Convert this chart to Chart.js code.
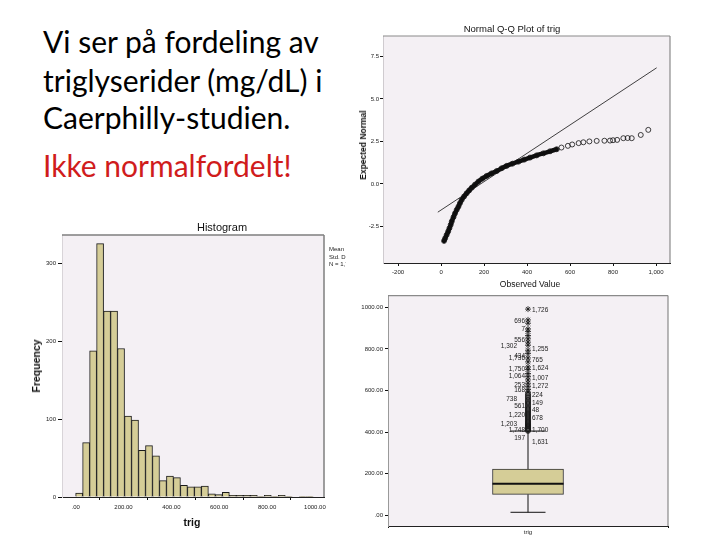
<!DOCTYPE html>
<html lang="no">
<head>
<meta charset="UTF-8">
<title>Triglyserider - Caerphilly</title>
<script src="https://cdn.jsdelivr.net/npm/chart.js"></script>
<style>
  html, body { margin: 0; padding: 0; background: #fff; }
  body { width: 720px; height: 540px; position: relative; overflow: hidden; font-family: 'Liberation Sans', Arial, sans-serif; }
  .slide-text { position: absolute; left: 43px; font-family: Lato, 'Open Sans', sans-serif; font-size: 30px; line-height: 30px; color: #000; white-space: nowrap; }
  .red { color: #d01c1c; }
  canvas { position: absolute; }
  .lbl { position: absolute; white-space: nowrap; color: #111; transform: translate(-50%, -50%); }
  .vlbl { transform: translate(-50%, -50%) rotate(-90deg); }
  .legend { position: absolute; left: 329px; top: 246px; width: 17px; overflow: hidden; font-size: 6px; line-height: 7.5px; color: #222; white-space: nowrap; }
</style>
</head>
<body>
  <div class="slide-text" style="top:26px">Vi ser på fordeling av</div>
  <div class="slide-text" style="top:65px">triglyserider (mg/dL) i</div>
  <div class="slide-text" style="top:102px">Caerphilly-studien.</div>
  <div class="slide-text red" style="top:150px">Ikke normalfordelt!</div>

  <canvas id="hist" width="325" height="320" style="left:20px; top:215px"></canvas>
  <div class="lbl" style="left:222px; top:227px; font-size:11px">Histogram</div>
  <div class="lbl vlbl" style="left:36px; top:366px; font-size:10.5px; font-weight:bold">Frequency</div>
  <div class="lbl" style="left:192px; top:522px; font-size:10.5px; font-weight:bold">trig</div>
  <div class="legend">Mean =<br>Std. Dev. =<br>N = 1,7</div>

  <canvas id="qq" width="318" height="275" style="left:357px; top:18px"></canvas>
  <div class="lbl" style="left:512px; top:28px; font-size:9.5px">Normal Q-Q Plot of trig</div>
  <div class="lbl vlbl" style="left:363px; top:145px; font-size:8.5px; font-weight:bold">Expected Normal</div>
  <div class="lbl" style="left:530px; top:284px; font-size:8.5px">Observed Value</div>

  <canvas id="box" width="318" height="250" style="left:357px; top:290px"></canvas>

<script>
// ---- histogram of trig ----
const histBinStart = 0;
const histBinWidth = 29.2;
const histCounts = [5, 70, 188, 326, 239, 239, 191, 104, 99, 60, 66, 53, 21, 27, 25, 15, 13,
                    13, 14, 4, 3, 6, 2, 2, 2, 2, 1, 2, 1, 2, 1, 0, 1, 1];
const histXTicks = [0, 200, 400, 600, 800, 1000];
const histXLabels = ['.00', '200.00', '400.00', '600.00', '800.00', '1000.00'];
const histYTicks = [0, 100, 200, 300];

// ---- normal Q-Q plot ----
const qqDenseX = [14, 19, 26, 33, 39, 45, 50, 58, 65, 73, 81, 88, 96, 107, 119, 131, 143, 158, 174, 192, 212,
                  235, 259, 282, 305, 332, 360, 387, 414, 445, 476, 507, 538];
const qqDenseY = [-3.35, -3.2, -3.0, -2.8, -2.6, -2.4, -2.2, -1.95, -1.73, -1.52, -1.33, -1.13, -0.94, -0.74, -0.55,
                  -0.38, -0.22, -0.04, 0.14, 0.31, 0.47, 0.62, 0.76, 0.92, 1.06, 1.19, 1.31, 1.43, 1.55, 1.68, 1.8, 1.92, 2.04];
const qqTailX = [560, 590, 610, 640, 662, 690, 724, 760, 786, 800, 819, 848, 868, 887, 929, 964];
const qqTailY = [2.14, 2.24, 2.32, 2.4, 2.45, 2.5, 2.53, 2.54, 2.55, 2.57, 2.59, 2.69, 2.7, 2.69, 2.88, 3.18];
const qqRefX = [-15, 1003];
const qqRefY = [-1.66, 6.83];
const qqXTicks = [-200, 0, 200, 400, 600, 800, 1000];
const qqXLabels = ['-200', '0', '200', '400', '600', '800', '1,000'];
const qqYTicks = [-2.5, 0, 2.5, 5, 7.5];
const qqYLabels = ['-2.5', '0.0', '2.5', '5.0', '7.5'];

// ---- boxplot ----
const boxCategory = 'trig';
const boxLowerWhisker = 14;
const boxQ1 = 100;
const boxMedian = 151;
const boxQ3 = 222;
const boxUpperWhisker = 405;
const boxOutliers = [585, 578, 571, 565, 558, 552, 546, 540, 534, 528, 522, 516, 510, 505, 500, 495, 490, 485,
                     480, 475, 470, 465, 460, 455, 450, 446, 442, 438, 434, 430, 426, 422, 418, 414, 410, 406];
const boxExtremes = [992, 940, 924, 897, 884, 865, 849, 833, 818, 794, 778, 757, 738, 714, 701, 682, 667,
                     651, 635, 620, 605, 592];
const boxLabelsLeft = [['696', 933], ['7', 894], ['556', 841], ['434', 765], ['1,736', 756], ['1,750', 702],
                       ['1,064', 667], ['253', 627], ['168', 600], ['561', 524], ['1,220', 482], ['1,748', 410], ['197', 373]];
const boxLabelsFarLeft = [['1,302', 813], ['738', 556], ['1,203', 440]];
const boxLabelsRight = [['1,726', 987], ['1,255', 799], ['765', 746], ['1,624', 706], ['1,007', 659], ['1,272', 619],
                        ['224', 578], ['149', 540], ['48', 505], ['678', 467], ['1,700', 410], ['1,631', 352]];
const boxYTicks = [0, 200, 400, 600, 800, 1000];
const boxYLabels = ['.00', '200.00', '400.00', '600.00', '800.00', '1000.00'];

const TAN = '#d5cd97';
const PLOT_BG = '#f4f0f4';
const tickFont = { family: 'Liberation Sans', size: 6 };

// fill plot background and draw the grey frame sides
const framePlugin = {
    id: 'frame',
    beforeDraw(chart, args, opts) {
        const { ctx, chartArea: a } = chart;
        ctx.save();
        ctx.fillStyle = opts.bg;
        ctx.fillRect(a.left, a.top, a.right - a.left, a.bottom - a.top);
        ctx.restore();
    },
    afterDraw(chart, args, opts) {
        const { ctx, chartArea: a } = chart;
        ctx.save();
        ctx.strokeStyle = opts.color;
        ctx.lineWidth = opts.width;
        ctx.beginPath();
        (opts.sides || []).forEach(s => {
            if (s === 'top') { ctx.moveTo(a.left, a.top); ctx.lineTo(a.right, a.top); }
            if (s === 'right') { ctx.moveTo(a.right, a.top); ctx.lineTo(a.right, a.bottom); }
            if (s === 'left') { ctx.moveTo(a.left, a.top); ctx.lineTo(a.left, a.bottom); }
        });
        ctx.stroke();
        ctx.restore();
    }
};

function fixedTicks(values) {
    return scale => { scale.ticks = values.map(v => ({ value: v })); };
}

function axisStyle(tickLen) {
    return {
        grid: { display: true, drawOnChartArea: false, drawTicks: true, tickLength: tickLen, color: '#111', lineWidth: 1 },
        border: { display: true, color: '#222', width: 1 }
    };
}

// ---------- histogram ----------
new Chart(document.getElementById('hist'), {
    type: 'bar',
    data: {
        datasets: [{
            data: histCounts.map((c, i) => ({ x: histBinStart + (i + 0.5) * histBinWidth, y: c })),
            backgroundColor: TAN,
            borderColor: '#1a1a1a',
            borderWidth: 1,
            borderSkipped: 'bottom',
            barPercentage: 1,
            categoryPercentage: 1
        }]
    },
    options: {
        responsive: false,
        animation: false,
        devicePixelRatio: 1,
        layout: { autoPadding: false, padding: { left: 0, right: 21, top: 20, bottom: 0 } },
        plugins: {
            legend: { display: false },
            tooltip: { enabled: false },
            frame: { bg: PLOT_BG, color: '#7f7f7f', width: 1.5, sides: ['top', 'right'] }
        },
        scales: {
            x: {
                type: 'linear', min: -57, max: 1038, offset: false,
                afterBuildTicks: fixedTicks(histXTicks),
                afterFit: s => { s.height = 38; },
                ticks: { font: tickFont, color: '#222', padding: 4, maxRotation: 0,
                         callback: v => histXLabels[histXTicks.indexOf(v)] },
                ...axisStyle(3)
            },
            y: {
                min: 0, max: 337,
                afterBuildTicks: fixedTicks(histYTicks),
                afterFit: s => { s.width = 42; },
                ticks: { font: tickFont, color: '#222', padding: 2 },
                grid: { display: true, drawOnChartArea: false, tickLength: 4, color: '#111' },
                border: { display: true, color: '#d8d4d8', width: 1 }
            }
        }
    },
    plugins: [framePlugin]
});

// ---------- Q-Q plot ----------
const openCircle = {
    pointStyle: 'circle', pointRadius: 2.5,
    pointBackgroundColor: 'rgba(0,0,0,0)', pointBorderColor: '#111', pointBorderWidth: 0.8
};

new Chart(document.getElementById('qq'), {
    type: 'scatter',
    data: {
        datasets: [
            {
                data: qqRefX.map((x, i) => ({ x, y: qqRefY[i] })),
                showLine: true, borderColor: '#111', borderWidth: 0.8, pointRadius: 0
            },
            {
                data: qqDenseX.map((x, i) => ({ x, y: qqDenseY[i] })),
                showLine: true, borderColor: '#0d0d0d', borderWidth: 4.5, tension: 0.3,
                borderCapStyle: 'round', ...openCircle
            },
            {
                data: qqTailX.map((x, i) => ({ x, y: qqTailY[i] })),
                showLine: false, ...openCircle
            }
        ]
    },
    options: {
        responsive: false,
        animation: false,
        devicePixelRatio: 1,
        layout: { autoPadding: false, padding: { left: 0, right: 5, top: 18, bottom: 0 } },
        plugins: {
            legend: { display: false },
            tooltip: { enabled: false },
            frame: { bg: PLOT_BG, color: '#8a8a8a', width: 1.2, sides: ['top', 'right'] }
        },
        scales: {
            x: {
                type: 'linear', min: -270, max: 1065,
                afterBuildTicks: fixedTicks(qqXTicks),
                afterFit: s => { s.height = 30; },
                ticks: { font: tickFont, color: '#222', padding: 3, maxRotation: 0,
                         callback: v => qqXLabels[qqXTicks.indexOf(v)] },
                ...axisStyle(3)
            },
            y: {
                type: 'linear', min: -4.65, max: 8.7,
                afterBuildTicks: fixedTicks(qqYTicks),
                afterFit: s => { s.width = 26; },
                ticks: { font: tickFont, color: '#222', padding: 1,
                         callback: v => qqYLabels[qqYTicks.indexOf(v)] },
                grid: { display: true, drawOnChartArea: false, tickLength: 3, color: '#111' },
                border: { display: true, color: '#cfcbcf', width: 1 }
            }
        }
    },
    plugins: [framePlugin]
});

// ---------- boxplot ----------
// one linear x axis 0..1, the box sits at 0.5
const BOX_X = 0.5;
const boxHalf = 0.127;   // half box width in axis units (box is 71px wide)
const capHalf = 0.0625;

const seg = (x1, y1, x2, y2) => [{ x: x1, y: y1 }, { x: x2, y: y2 }];
const lineSet = (data, width) => ({
    type: 'scatter', data, showLine: true,
    borderColor: '#111', borderWidth: width, pointRadius: 0, order: 1
});

const outlierLabels = {
    id: 'outlierLabels',
    afterDatasetsDraw(chart) {
        const { ctx } = chart;
        const xs = chart.scales.x, ys = chart.scales.y;
        const cx = xs.getPixelForValue(BOX_X);
        ctx.save();
        ctx.font = '6.5px "Liberation Sans"';
        ctx.fillStyle = '#222';
        ctx.textBaseline = 'middle';
        ctx.textAlign = 'right';
        boxLabelsLeft.forEach(([t, v]) => ctx.fillText(t, cx - 3, ys.getPixelForValue(v)));
        boxLabelsFarLeft.forEach(([t, v]) => ctx.fillText(t, cx - 11, ys.getPixelForValue(v)));
        ctx.textAlign = 'left';
        boxLabelsRight.forEach(([t, v]) => ctx.fillText(t, cx + 4, ys.getPixelForValue(v)));
        ctx.restore();
    }
};

new Chart(document.getElementById('box'), {
    type: 'bar',
    data: {
        datasets: [
            {
                type: 'bar', data: [{ x: BOX_X, y: [boxQ1, boxQ3] }],
                backgroundColor: TAN, borderColor: '#333', borderWidth: 1, borderSkipped: false,
                barThickness: 71, order: 5
            },
            lineSet(seg(BOX_X - boxHalf, boxMedian, BOX_X + boxHalf, boxMedian), 2),
            lineSet(seg(BOX_X, boxLowerWhisker, BOX_X, boxQ1), 1),
            lineSet(seg(BOX_X, boxQ3, BOX_X, boxUpperWhisker), 1),
            lineSet(seg(BOX_X - capHalf, boxLowerWhisker, BOX_X + capHalf, boxLowerWhisker), 1),
            lineSet(seg(BOX_X - capHalf, boxUpperWhisker, BOX_X + capHalf, boxUpperWhisker), 1),
            {
                type: 'scatter', order: 0,
                data: boxOutliers.map(v => ({ x: BOX_X, y: v })), ...openCircle
            },
            {
                type: 'scatter', order: 0,
                data: boxExtremes.map(v => ({ x: BOX_X, y: v })),
                pointStyle: 'star', pointRadius: 3, pointBorderColor: '#111', pointBorderWidth: 0.8
            }
        ]
    },
    options: {
        responsive: false,
        animation: false,
        devicePixelRatio: 1,
        layout: { autoPadding: false, padding: { left: 0, right: 7, top: 3, bottom: 0 } },
        plugins: {
            legend: { display: false },
            tooltip: { enabled: false },
            frame: { bg: PLOT_BG, color: '#8a8a8a', width: 1.2, sides: ['top', 'right'] }
        },
        scales: {
            x: {
                type: 'linear', min: 0, max: 1, offset: false,
                afterBuildTicks: fixedTicks([BOX_X]),
                afterFit: s => { s.height = 14; },
                ticks: { font: tickFont, color: '#222', padding: 1, callback: () => boxCategory },
                grid: { display: true, drawOnChartArea: false, tickLength: 2, color: '#111' },
                border: { display: true, color: '#222', width: 1 }
            },
            y: {
                min: -52, max: 1057,
                afterBuildTicks: fixedTicks(boxYTicks),
                afterFit: s => { s.width = 31; },
                ticks: { font: tickFont, color: '#222', padding: 2,
                         callback: v => boxYLabels[boxYTicks.indexOf(v)] },
                grid: { display: true, drawOnChartArea: false, tickLength: 3, color: '#111' },
                border: { display: true, color: '#9a9a9a', width: 1 }
            }
        }
    },
    plugins: [framePlugin, outlierLabels]
});
</script>
</body>
</html>
